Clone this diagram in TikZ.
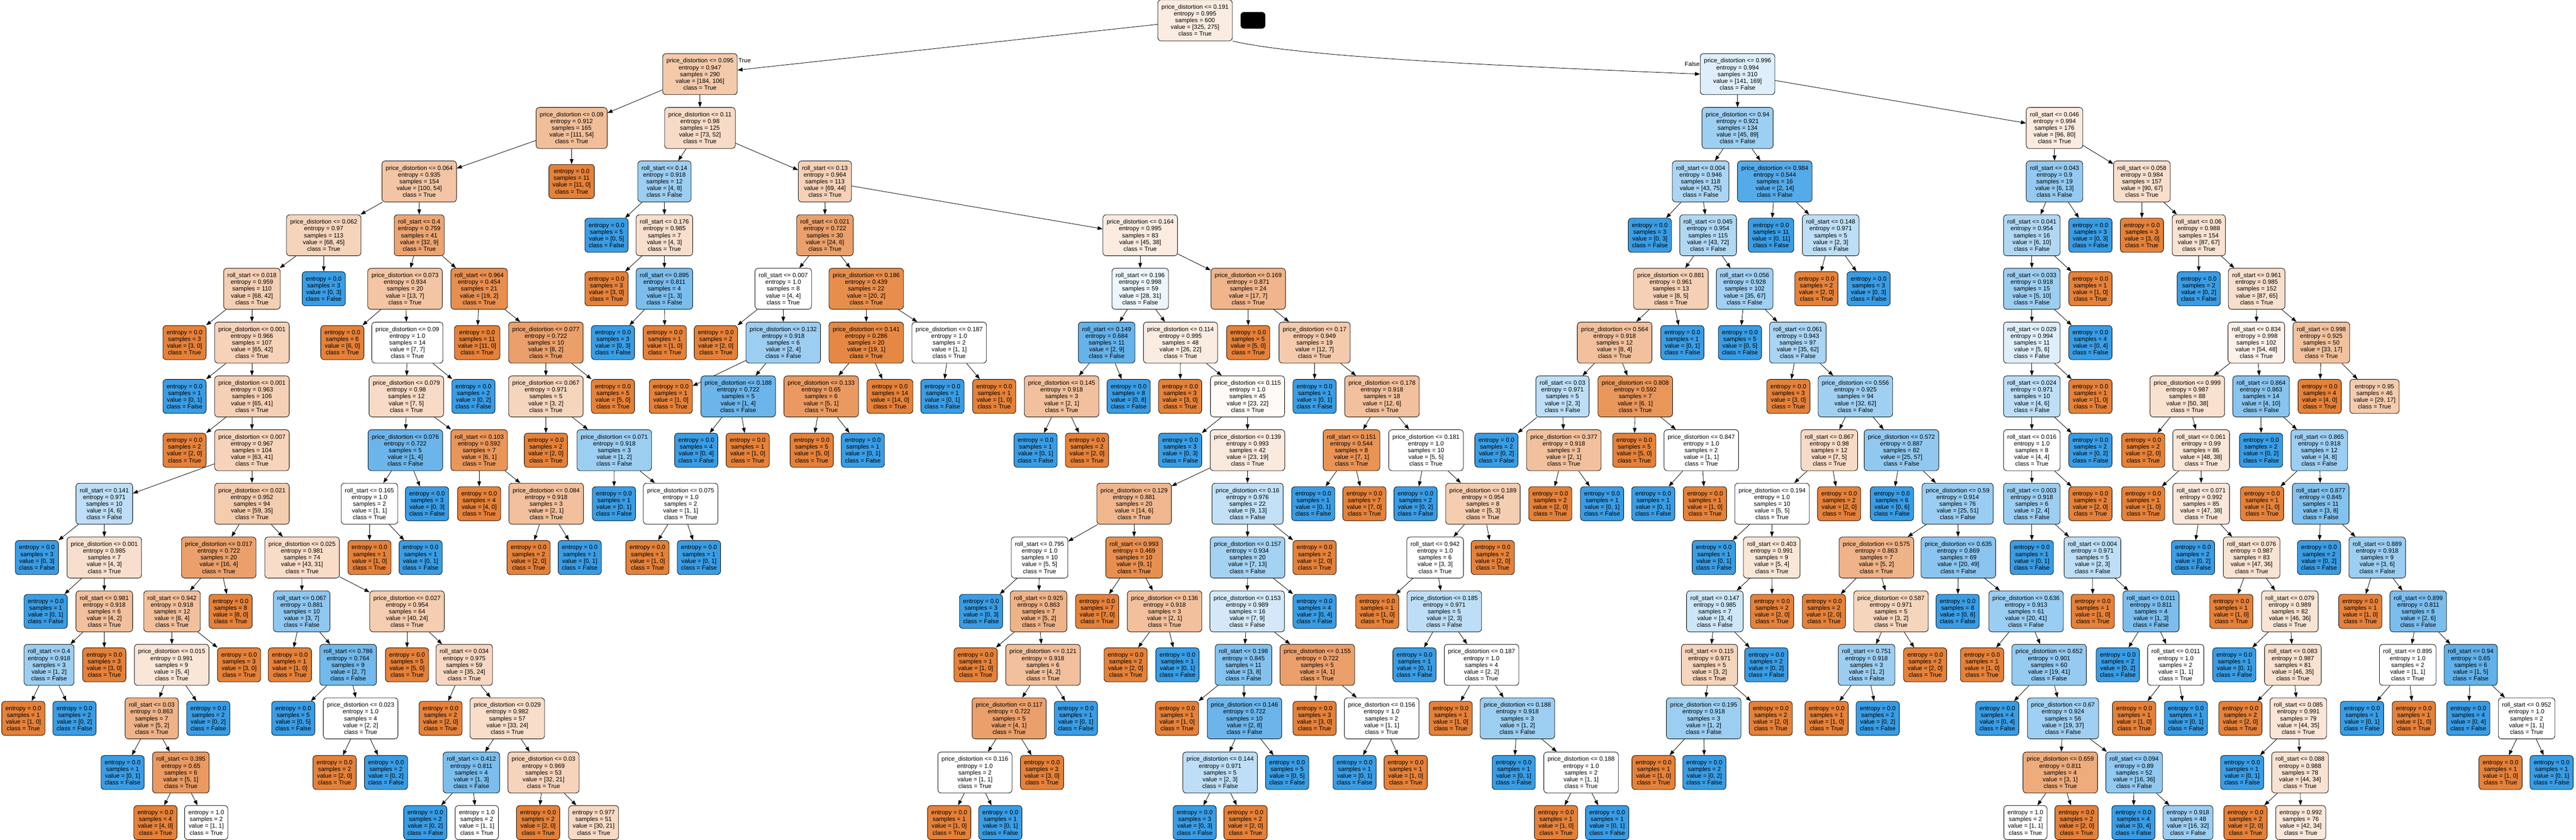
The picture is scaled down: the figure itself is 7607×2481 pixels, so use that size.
\documentclass[tikz,border=0pt]{standalone}
\usepackage{fontspec}
\setmainfont{Liberation Sans}
\usetikzlibrary{arrows.meta}
\definecolor{classT}{RGB}{229,129,57}
\definecolor{classF}{RGB}{57,157,229}
\tikzset{
  treebox/.style={draw=black,line width=0.65pt,rounded corners=5pt,align=center,inner xsep=5.5pt,inner ysep=7pt,font=\fontsize{9}{10}\selectfont},
  treeedge/.style={draw=black,line width=0.65pt,-{Triangle[length=7.5pt,width=5.5pt]}},
  sidelabel/.style={inner sep=0pt,font=\fontsize{9}{10}\selectfont}
}
\newcommand{\pdr}[1]{price\_distortion <= #1\\}
\newcommand{\rsr}[1]{roll\_start <= #1\\}
% id, parent, x, level, rule line, entropy, value a, value b
\newcommand{\dn}[8]{%
  \edef\nfy{\ifcase#4 60\or 219\or 378\or 536\or 695\or 853\or 1012\or 1171\or 1330\or 1488\or 1647\or 1806\or 1964\or 2122\or 2282\or 2430\fi}%
  \pgfmathsetmacro\nfa{100*abs(#7-#8)/max(#7,#8)}%
  \ifnum#7<#8 \colorlet{nodefill}{classF!\nfa!white}\def\nfc{False}\else\colorlet{nodefill}{classT!\nfa!white}\def\nfc{True}\fi
  \node[treebox,fill=nodefill] (#1) at (#3,\nfy) {#5entropy = #6\\samples = \the\numexpr#7+#8\relax\\value = [#7, #8]\\class = \nfc};
  \if\relax\detokenize{#2}\relax\else\draw[treeedge] (#2) -- (#1);\fi
}
\begin{document}
\begin{tikzpicture}[x=0.5pt,y=-0.5pt]
\useasboundingbox (0,0) rectangle (7607,2481);
\dn{0a}{}{3529}{0}{\pdr{0.191}}{0.995}{325}{275}
\node[fill=black,rounded corners=5pt,minimum width=36.5pt,minimum height=24.5pt,inner sep=0pt] (blob) at (3700,60) {};
% level 1
\dn{1a}{0a}{2067}{1}{\pdr{0.095}}{0.947}{184}{106}
\dn{1b}{}{5131}{1}{\pdr{0.996}}{0.994}{141}{169}
\draw[treeedge] (0a.south east) .. controls (3850,170) and (4450,195) .. (1b.west);
\node[sidelabel] (lblT) at (2199,179) {True};
\node[sidelabel] (lblF) at (4997,189) {False};
% level 2
\dn{2a}{1a}{1688}{2}{\pdr{0.09}}{0.912}{111}{54}
\dn{2b}{1a}{2067}{2}{\pdr{0.11}}{0.98}{73}{52}
\dn{2c}{1b}{5131}{2}{\pdr{0.94}}{0.921}{45}{89}
\dn{2d}{1b}{6067}{2}{\rsr{0.046}}{0.994}{96}{80}
% level 3
\dn{3a}{2a}{1238}{3}{\pdr{0.064}}{0.935}{100}{54}
\dn{3b}{2a}{1688}{3}{}{0.0}{11}{0}
\dn{3c}{2b}{1962}{3}{\rsr{0.14}}{0.918}{4}{8}
\dn{3d}{2b}{2436}{3}{\rsr{0.13}}{0.964}{69}{44}
\dn{3e}{2c}{5022}{3}{\rsr{0.004}}{0.946}{43}{75}
\dn{3f}{2c}{5241}{3}{\pdr{0.984}}{0.544}{2}{14}
\dn{3g}{2d}{6067}{3}{\rsr{0.043}}{0.9}{6}{13}
\dn{3h}{2d}{6325}{3}{\rsr{0.058}}{0.984}{90}{67}
% level 4
\dn{4a}{3a}{956}{4}{\pdr{0.062}}{0.97}{68}{45}
\dn{4b}{3a}{1238}{4}{\rsr{0.4}}{0.759}{32}{9}
\dn{4c}{3c}{1791}{4}{}{0.0}{0}{5}
\dn{4d}{3c}{1962}{4}{\rsr{0.176}}{0.985}{4}{3}
\dn{4e}{3d}{2436}{4}{\rsr{0.021}}{0.722}{24}{6}
\dn{4f}{3d}{3367}{4}{\pdr{0.164}}{0.995}{45}{38}
\dn{4g}{3e}{4872}{4}{}{0.0}{0}{3}
\dn{4h}{3e}{5044}{4}{\rsr{0.045}}{0.954}{43}{72}
\dn{4i}{3f}{5230}{4}{}{0.0}{0}{11}
\dn{4j}{3f}{5406}{4}{\rsr{0.148}}{0.971}{2}{3}
\dn{4k}{3g}{6000}{4}{\rsr{0.041}}{0.954}{6}{10}
\dn{4l}{3g}{6173}{4}{}{0.0}{0}{3}
\dn{4m}{3h}{6325}{4}{}{0.0}{3}{0}
\dn{4n}{3h}{6493}{4}{\rsr{0.06}}{0.988}{87}{67}
% level 5
\dn{5a}{4a}{744}{5}{\rsr{0.018}}{0.959}{68}{42}
\dn{5b}{4a}{956}{5}{}{0.0}{0}{3}
\dn{5c}{4b}{1196}{5}{\pdr{0.073}}{0.934}{13}{7}
\dn{5d}{4b}{1415}{5}{\rsr{0.964}}{0.454}{19}{2}
\dn{5e}{4d}{1791}{5}{}{0.0}{3}{0}
\dn{5f}{4d}{1962}{5}{\rsr{0.895}}{0.811}{1}{3}
\dn{5g}{4e}{2313}{5}{\rsr{0.007}}{1.0}{4}{4}
\dn{5h}{4e}{2558}{5}{\pdr{0.186}}{0.439}{20}{2}
\dn{5i}{4f}{3367}{5}{\rsr{0.196}}{0.998}{28}{31}
\dn{5j}{4f}{3686}{5}{\pdr{0.169}}{0.871}{17}{7}
\dn{5k}{4h}{4934}{5}{\pdr{0.881}}{0.961}{8}{5}
\dn{5l}{4h}{5152}{5}{\rsr{0.056}}{0.928}{35}{67}
\dn{5m}{4j}{5364}{5}{}{0.0}{2}{0}
\dn{5n}{4j}{5518}{5}{}{0.0}{0}{3}
\dn{5o}{4k}{6000}{5}{\rsr{0.033}}{0.918}{5}{10}
\dn{5p}{4k}{6173}{5}{}{0.0}{1}{0}
\dn{5q}{4n}{6493}{5}{}{0.0}{0}{2}
\dn{5r}{4n}{6664}{5}{\rsr{0.961}}{0.985}{87}{65}
% level 6
\dn{6a}{5a}{545}{6}{}{0.0}{3}{0}
\dn{6b}{5a}{744}{6}{\pdr{0.001}}{0.966}{65}{42}
\dn{6c}{5c}{1011}{6}{}{0.0}{6}{0}
\dn{6d}{5c}{1203}{6}{\pdr{0.09}}{1.0}{7}{7}
\dn{6e}{5d}{1409}{6}{}{0.0}{11}{0}
\dn{6f}{5d}{1612}{6}{\pdr{0.077}}{0.722}{8}{2}
\dn{6g}{5f}{1810}{6}{}{0.0}{0}{3}
\dn{6h}{5f}{1963}{6}{}{0.0}{1}{0}
\dn{6i}{5g}{2114}{6}{}{0.0}{2}{0}
\dn{6j}{5g}{2313}{6}{\pdr{0.132}}{0.918}{2}{4}
\dn{6k}{5h}{2558}{6}{\pdr{0.141}}{0.286}{19}{1}
\dn{6l}{5h}{2803}{6}{\pdr{0.187}}{1.0}{1}{1}
\dn{6m}{5i}{3268}{6}{\rsr{0.149}}{0.684}{2}{9}
\dn{6n}{5i}{3486}{6}{\pdr{0.114}}{0.995}{26}{22}
\dn{6o}{5j}{3686}{6}{}{0.0}{5}{0}
\dn{6p}{5j}{3882}{6}{\pdr{0.17}}{0.949}{12}{7}
\dn{6q}{5k}{4768}{6}{\pdr{0.564}}{0.918}{8}{4}
\dn{6r}{5k}{4968}{6}{}{0.0}{0}{1}
\dn{6s}{5l}{5138}{6}{}{0.0}{0}{5}
\dn{6t}{5l}{5309}{6}{\rsr{0.061}}{0.943}{35}{62}
\dn{6u}{5o}{6000}{6}{\rsr{0.029}}{0.994}{5}{6}
\dn{6v}{5o}{6173}{6}{}{0.0}{0}{4}
\dn{6w}{5r}{6663}{6}{\rsr{0.834}}{0.998}{54}{48}
\dn{6x}{5r}{6855}{6}{\rsr{0.998}}{0.925}{33}{17}
% level 7
\dn{7a}{6b}{545}{7}{}{0.0}{0}{1}
\dn{7b}{6b}{744}{7}{\pdr{0.001}}{0.963}{65}{41}
\dn{7c}{6d}{1200}{7}{\pdr{0.079}}{0.98}{7}{5}
\dn{7d}{6d}{1398}{7}{}{0.0}{0}{2}
\dn{7e}{6f}{1612}{7}{\pdr{0.067}}{0.971}{3}{2}
\dn{7f}{6f}{1810}{7}{}{0.0}{5}{0}
\dn{7g}{6j}{1981}{7}{}{0.0}{1}{0}
\dn{7h}{6j}{2180}{7}{\pdr{0.188}}{0.722}{1}{4}
\dn{7i}{6k}{2425}{7}{\pdr{0.133}}{0.65}{5}{1}
\dn{7j}{6k}{2628}{7}{}{0.0}{14}{0}
\dn{7k}{6l}{2783}{7}{}{0.0}{0}{1}
\dn{7l}{6l}{2936}{7}{}{0.0}{1}{0}
\dn{7m}{6m}{3135}{7}{\pdr{0.145}}{0.918}{2}{1}
\dn{7n}{6m}{3333}{7}{}{0.0}{0}{8}
\dn{7o}{6n}{3485}{7}{}{0.0}{3}{0}
\dn{7p}{6n}{3684}{7}{\pdr{0.115}}{1.0}{23}{22}
\dn{7q}{6p}{3882}{7}{}{0.0}{0}{1}
\dn{7r}{6p}{4081}{7}{\pdr{0.178}}{0.918}{12}{6}
\dn{7s}{6q}{4614}{7}{\rsr{0.03}}{0.971}{2}{3}
\dn{7t}{6q}{4829}{7}{\pdr{0.808}}{0.592}{6}{1}
\dn{7u}{6t}{5281}{7}{}{0.0}{3}{0}
\dn{7v}{6t}{5479}{7}{\pdr{0.556}}{0.925}{32}{62}
\dn{7w}{6u}{6000}{7}{\rsr{0.024}}{0.971}{4}{6}
\dn{7x}{6u}{6173}{7}{}{0.0}{1}{0}
\dn{7y}{6w}{6459}{7}{\pdr{0.999}}{0.987}{50}{38}
\dn{7z}{6w}{6677}{7}{\rsr{0.864}}{0.863}{4}{10}
\dn{7A}{6x}{6850}{7}{}{0.0}{4}{0}
\dn{7B}{6x}{7012}{7}{}{0.95}{29}{17}
% level 8
\dn{8a}{7b}{545}{8}{}{0.0}{2}{0}
\dn{8b}{7b}{744}{8}{\pdr{0.007}}{0.967}{63}{41}
\dn{8c}{7c}{1197}{8}{\pdr{0.076}}{0.722}{1}{4}
\dn{8d}{7c}{1415}{8}{\rsr{0.103}}{0.592}{6}{1}
\dn{8e}{7e}{1612}{8}{}{0.0}{2}{0}
\dn{8f}{7e}{1814}{8}{\pdr{0.071}}{0.918}{1}{2}
\dn{8g}{7h}{2056}{8}{}{0.0}{0}{4}
\dn{8h}{7h}{2208}{8}{}{0.0}{1}{0}
\dn{8i}{7i}{2397}{8}{}{0.0}{5}{0}
\dn{8j}{7i}{2548}{8}{}{0.0}{0}{1}
\dn{8k}{7m}{3058}{8}{}{0.0}{0}{1}
\dn{8l}{7m}{3210}{8}{}{0.0}{2}{0}
\dn{8m}{7p}{3485}{8}{}{0.0}{0}{3}
\dn{8n}{7p}{3684}{8}{\pdr{0.139}}{0.993}{23}{19}
\dn{8o}{7r}{3991}{8}{\rsr{0.151}}{0.544}{7}{1}
\dn{8p}{7r}{4211}{8}{\pdr{0.181}}{1.0}{5}{5}
\dn{8q}{7s}{4419}{8}{}{0.0}{0}{2}
\dn{8r}{7s}{4618}{8}{\pdr{0.377}}{0.918}{2}{1}
\dn{8s}{7t}{4826}{8}{}{0.0}{5}{0}
\dn{8t}{7t}{5024}{8}{\pdr{0.847}}{1.0}{1}{1}
\dn{8u}{7v}{5402}{8}{\rsr{0.867}}{0.98}{7}{5}
\dn{8v}{7v}{5615}{8}{\pdr{0.572}}{0.887}{25}{57}
\dn{8w}{7w}{6000}{8}{\rsr{0.016}}{1.0}{4}{4}
\dn{8x}{7w}{6173}{8}{}{0.0}{0}{2}
\dn{8y}{7y}{6329}{8}{}{0.0}{2}{0}
\dn{8z}{7y}{6500}{8}{\rsr{0.061}}{0.99}{48}{38}
\dn{8A}{7z}{6677}{8}{}{0.0}{0}{2}
\dn{8B}{7z}{6849}{8}{\rsr{0.865}}{0.918}{4}{8}
% level 9
\dn{9a}{8b}{308}{9}{\rsr{0.141}}{0.971}{4}{6}
\dn{9b}{8b}{744}{9}{\pdr{0.021}}{0.952}{59}{35}
\dn{9c}{8c}{1091}{9}{\rsr{0.165}}{1.0}{1}{1}
\dn{9d}{8c}{1261}{9}{}{0.0}{0}{3}
\dn{9e}{8d}{1415}{9}{}{0.0}{4}{0}
\dn{9f}{8d}{1613}{9}{\pdr{0.084}}{0.918}{2}{1}
\dn{9g}{8f}{1813}{9}{}{0.0}{0}{1}
\dn{9h}{8f}{2010}{9}{\pdr{0.075}}{1.0}{1}{1}
\dn{9i}{8n}{3349}{9}{\pdr{0.129}}{0.881}{14}{6}
\dn{9j}{8n}{3684}{9}{\pdr{0.16}}{0.976}{9}{13}
\dn{9k}{8o}{3878}{9}{}{0.0}{0}{1}
\dn{9l}{8o}{4029}{9}{}{0.0}{7}{0}
\dn{9m}{8p}{4180}{9}{}{0.0}{0}{2}
\dn{9n}{8p}{4379}{9}{\pdr{0.189}}{0.954}{5}{3}
\dn{9o}{8r}{4578}{9}{}{0.0}{2}{0}
\dn{9p}{8r}{4731}{9}{}{0.0}{0}{1}
\dn{9q}{8t}{4882}{9}{}{0.0}{0}{1}
\dn{9r}{8t}{5035}{9}{}{0.0}{1}{0}
\dn{9s}{8u}{5233}{9}{\pdr{0.194}}{1.0}{5}{5}
\dn{9t}{8u}{5431}{9}{}{0.0}{2}{0}
\dn{9u}{8v}{5587}{9}{}{0.0}{0}{6}
\dn{9v}{8v}{5781}{9}{\pdr{0.59}}{0.914}{25}{51}
\dn{9w}{8w}{6000}{9}{\rsr{0.003}}{0.918}{2}{4}
\dn{9x}{8w}{6173}{9}{}{0.0}{2}{0}
\dn{9y}{8z}{6329}{9}{}{0.0}{1}{0}
\dn{9z}{8z}{6500}{9}{\rsr{0.071}}{0.992}{47}{38}
\dn{9A}{8B}{6680}{9}{}{0.0}{1}{0}
\dn{9B}{8B}{6853}{9}{\rsr{0.877}}{0.845}{3}{8}
% level 10
\dn{10a}{9a}{109}{10}{}{0.0}{0}{3}
\dn{10b}{9a}{308}{10}{\pdr{0.001}}{0.985}{4}{3}
\dn{10c}{9b}{646}{10}{\pdr{0.017}}{0.722}{16}{4}
\dn{10d}{9b}{892}{10}{\pdr{0.025}}{0.981}{43}{31}
\dn{10e}{9c}{1091}{10}{}{0.0}{1}{0}
\dn{10f}{9c}{1242}{10}{}{0.0}{0}{1}
\dn{10g}{9f}{1561}{10}{}{0.0}{2}{0}
\dn{10h}{9f}{1712}{10}{}{0.0}{0}{1}
\dn{10i}{9h}{1912}{10}{}{0.0}{1}{0}
\dn{10j}{9h}{2064}{10}{}{0.0}{0}{1}
\dn{10k}{9i}{3070}{10}{\rsr{0.795}}{1.0}{5}{5}
\dn{10l}{9i}{3349}{10}{\rsr{0.993}}{0.469}{9}{1}
\dn{10m}{9j}{3684}{10}{\pdr{0.157}}{0.934}{7}{13}
\dn{10n}{9j}{3882}{10}{}{0.0}{2}{0}
\dn{10o}{9n}{4238}{10}{\rsr{0.942}}{1.0}{3}{3}
\dn{10p}{9n}{4408}{10}{}{0.0}{2}{0}
\dn{10q}{9s}{5061}{10}{}{0.0}{0}{1}
\dn{10r}{9s}{5232}{10}{\rsr{0.403}}{0.991}{5}{4}
\dn{10s}{9v}{5541}{10}{\pdr{0.575}}{0.863}{5}{2}
\dn{10t}{9v}{5783}{10}{\pdr{0.635}}{0.869}{20}{49}
\dn{10u}{9w}{6000}{10}{}{0.0}{0}{1}
\dn{10v}{9w}{6179}{10}{\rsr{0.004}}{0.971}{2}{3}
\dn{10w}{9z}{6476}{10}{}{0.0}{0}{2}
\dn{10x}{9z}{6649}{10}{\rsr{0.076}}{0.987}{47}{36}
\dn{10y}{9B}{6848}{10}{}{0.0}{0}{2}
\dn{10z}{9B}{7020}{10}{\rsr{0.889}}{0.918}{3}{6}
% level 11
\dn{11a}{10b}{135}{11}{}{0.0}{0}{1}
\dn{11b}{10b}{308}{11}{\rsr{0.981}}{0.918}{4}{2}
\dn{11c}{10c}{508}{11}{\rsr{0.942}}{0.918}{8}{4}
\dn{11d}{10c}{681}{11}{}{0.0}{8}{0}
\dn{11e}{10d}{891}{11}{\rsr{0.067}}{0.881}{3}{7}
\dn{11f}{10d}{1202}{11}{\pdr{0.027}}{0.954}{40}{24}
\dn{11g}{10k}{2897}{11}{}{0.0}{0}{3}
\dn{11h}{10k}{3067}{11}{\rsr{0.925}}{0.863}{5}{2}
\dn{11i}{10l}{3240}{11}{}{0.0}{7}{0}
\dn{11j}{10l}{3439}{11}{\pdr{0.136}}{0.918}{2}{1}
\dn{11k}{10m}{3683}{11}{\pdr{0.153}}{0.989}{7}{9}
\dn{11l}{10m}{3882}{11}{}{0.0}{0}{4}
\dn{11m}{10o}{4067}{11}{}{0.0}{1}{0}
\dn{11n}{10o}{4265}{11}{\pdr{0.185}}{0.971}{2}{3}
\dn{11o}{10r}{5064}{11}{\rsr{0.147}}{0.985}{3}{4}
\dn{11p}{10r}{5233}{11}{}{0.0}{2}{0}
\dn{11q}{10s}{5386}{11}{}{0.0}{2}{0}
\dn{11r}{10s}{5584}{11}{\pdr{0.587}}{0.971}{3}{2}
\dn{11s}{10t}{5781}{11}{}{0.0}{0}{8}
\dn{11t}{10t}{5983}{11}{\pdr{0.636}}{0.913}{20}{41}
\dn{11u}{10v}{6180}{11}{}{0.0}{1}{0}
\dn{11v}{10v}{6352}{11}{\rsr{0.011}}{0.811}{1}{3}
\dn{11w}{10x}{6589}{11}{}{0.0}{1}{0}
\dn{11x}{10x}{6762}{11}{\rsr{0.079}}{0.989}{46}{36}
\dn{11y}{10z}{6970}{11}{}{0.0}{1}{0}
\dn{11z}{10z}{7141}{11}{\rsr{0.899}}{0.811}{2}{6}
% level 12
\dn{12a}{11b}{145}{12}{\rsr{0.4}}{0.918}{1}{2}
\dn{12b}{11b}{308}{12}{}{0.0}{3}{0}
\dn{12c}{11c}{507}{12}{\pdr{0.015}}{0.991}{5}{4}
\dn{12d}{11c}{706}{12}{}{0.0}{3}{0}
\dn{12e}{11e}{856}{12}{}{0.0}{1}{0}
\dn{12f}{11e}{1028}{12}{\rsr{0.786}}{0.764}{2}{7}
\dn{12g}{11f}{1202}{12}{}{0.0}{5}{0}
\dn{12h}{11f}{1371}{12}{\rsr{0.034}}{0.975}{35}{24}
\dn{12i}{11h}{2881}{12}{}{0.0}{1}{0}
\dn{12j}{11h}{3080}{12}{\pdr{0.121}}{0.918}{4}{2}
\dn{12k}{11j}{3324}{12}{}{0.0}{2}{0}
\dn{12l}{11j}{3477}{12}{}{0.0}{0}{1}
\dn{12m}{11k}{3672}{12}{\rsr{0.198}}{0.845}{3}{8}
\dn{12n}{11k}{3890}{12}{\pdr{0.155}}{0.722}{4}{1}
\dn{12o}{11n}{4177}{12}{}{0.0}{0}{1}
\dn{12p}{11n}{4375}{12}{\pdr{0.187}}{1.0}{2}{2}
\dn{12q}{11o}{5048}{12}{\rsr{0.115}}{0.971}{3}{2}
\dn{12r}{11o}{5216}{12}{}{0.0}{0}{2}
\dn{12s}{11r}{5512}{12}{\rsr{0.751}}{0.918}{1}{2}
\dn{12t}{11r}{5685}{12}{}{0.0}{2}{0}
\dn{12u}{11t}{5853}{12}{}{0.0}{1}{0}
\dn{12v}{11t}{6051}{12}{\pdr{0.652}}{0.901}{19}{41}
\dn{12w}{11v}{6254}{12}{}{0.0}{0}{2}
\dn{12x}{11v}{6425}{12}{\rsr{0.011}}{1.0}{1}{1}
\dn{12y}{11x}{6598}{12}{}{0.0}{0}{1}
\dn{12z}{11x}{6771}{12}{\rsr{0.083}}{0.987}{46}{35}
\dn{12A}{11z}{7110}{12}{\rsr{0.895}}{1.0}{1}{1}
\dn{12B}{11z}{7296}{12}{\rsr{0.94}}{0.65}{1}{5}
% level 13
\dn{13a}{12a}{69}{13}{}{0.0}{1}{0}
\dn{13b}{12a}{220}{13}{}{0.0}{0}{2}
\dn{13c}{12c}{448}{13}{\rsr{0.03}}{0.863}{5}{2}
\dn{13d}{12c}{615}{13}{}{0.0}{0}{2}
\dn{13e}{12f}{866}{13}{}{0.0}{0}{5}
\dn{13f}{12f}{1065}{13}{\pdr{0.023}}{1.0}{2}{2}
\dn{13g}{12h}{1301}{13}{}{0.0}{2}{0}
\dn{13h}{12h}{1498}{13}{\pdr{0.029}}{0.982}{33}{24}
\dn{13i}{12j}{2980}{13}{\pdr{0.117}}{0.722}{4}{1}
\dn{13j}{12j}{3177}{13}{}{0.0}{0}{1}
\dn{13k}{12m}{3476}{13}{}{0.0}{1}{0}
\dn{13l}{12m}{3675}{13}{\pdr{0.146}}{0.722}{2}{8}
\dn{13m}{12n}{3882}{13}{}{0.0}{3}{0}
\dn{13n}{12n}{4080}{13}{\pdr{0.156}}{1.0}{1}{1}
\dn{13o}{12p}{4284}{13}{}{0.0}{1}{0}
\dn{13p}{12p}{4481}{13}{\pdr{0.188}}{0.918}{1}{2}
\dn{13q}{12q}{5031}{13}{\pdr{0.195}}{0.918}{1}{2}
\dn{13r}{12q}{5229}{13}{}{0.0}{2}{0}
\dn{13s}{12s}{5394}{13}{}{0.0}{1}{0}
\dn{13t}{12s}{5545}{13}{}{0.0}{0}{2}
\dn{13u}{12v}{5898}{13}{}{0.0}{0}{4}
\dn{13v}{12v}{6092}{13}{\pdr{0.67}}{0.924}{19}{37}
\dn{13w}{12x}{6302}{13}{}{0.0}{1}{0}
\dn{13x}{12x}{6455}{13}{}{0.0}{0}{1}
\dn{13y}{12z}{6616}{13}{}{0.0}{2}{0}
\dn{13z}{12z}{6787}{13}{\rsr{0.085}}{0.991}{44}{35}
\dn{13A}{12A}{6975}{13}{}{0.0}{0}{1}
\dn{13B}{12A}{7128}{13}{}{0.0}{1}{0}
\dn{13C}{12B}{7289}{13}{}{0.0}{0}{4}
\dn{13D}{12B}{7461}{13}{\rsr{0.952}}{1.0}{1}{1}
% level 14
\dn{14a}{13c}{362}{14}{}{0.0}{0}{1}
\dn{14b}{13c}{534}{14}{\rsr{0.395}}{0.65}{5}{1}
\dn{14c}{13f}{988}{14}{}{0.0}{2}{0}
\dn{14d}{13f}{1140}{14}{}{0.0}{0}{2}
\dn{14e}{13h}{1392}{14}{\rsr{0.412}}{0.811}{1}{3}
\dn{14f}{13h}{1605}{14}{\pdr{0.03}}{0.969}{32}{21}
\dn{14g}{13i}{2879}{14}{\pdr{0.116}}{1.0}{1}{1}
\dn{14h}{13i}{3077}{14}{}{0.0}{3}{0}
\dn{14i}{13l}{3603}{14}{\pdr{0.144}}{0.971}{2}{3}
\dn{14j}{13l}{3801}{14}{}{0.0}{0}{5}
\dn{14k}{13n}{4000}{14}{}{0.0}{0}{1}
\dn{14l}{13n}{4151}{14}{}{0.0}{1}{0}
\dn{14m}{13p}{4470}{14}{}{0.0}{0}{1}
\dn{14n}{13p}{4669}{14}{\pdr{0.188}}{1.0}{1}{1}
\dn{14o}{13q}{4883}{14}{}{0.0}{1}{0}
\dn{14p}{13q}{5033}{14}{}{0.0}{0}{2}
\dn{14q}{13v}{6084}{14}{\pdr{0.659}}{0.811}{3}{1}
\dn{14r}{13v}{6302}{14}{\rsr{0.094}}{0.89}{16}{36}
\dn{14s}{13z}{6621}{14}{}{0.0}{0}{1}
\dn{14t}{13z}{6792}{14}{\rsr{0.088}}{0.988}{44}{34}
\dn{14u}{13D}{7384}{14}{}{0.0}{1}{0}
\dn{14v}{13D}{7535}{14}{}{0.0}{0}{1}
% level 15
\dn{15a}{14b}{459}{15}{}{0.0}{4}{0}
\dn{15b}{14b}{609}{15}{}{1.0}{1}{1}
\dn{15c}{14e}{1256}{15}{}{0.0}{0}{2}
\dn{15d}{14e}{1408}{15}{}{1.0}{1}{1}
\dn{15e}{14f}{1589}{15}{}{0.0}{2}{0}
\dn{15f}{14f}{1753}{15}{}{0.977}{30}{21}
\dn{15g}{14g}{2803}{15}{}{0.0}{1}{0}
\dn{15h}{14g}{2954}{15}{}{0.0}{0}{1}
\dn{15i}{14i}{3528}{15}{}{0.0}{0}{3}
\dn{15j}{14i}{3678}{15}{}{0.0}{2}{0}
\dn{15k}{14n}{4595}{15}{}{0.0}{1}{0}
\dn{15l}{14n}{4746}{15}{}{0.0}{0}{1}
\dn{15m}{14q}{5981}{15}{}{1.0}{1}{1}
\dn{15n}{14q}{6132}{15}{}{0.0}{2}{0}
\dn{15o}{14r}{6300}{15}{}{0.0}{0}{4}
\dn{15p}{14r}{6461}{15}{}{0.918}{16}{32}
\dn{15q}{14t}{6631}{15}{}{0.0}{2}{0}
\dn{15r}{14t}{6794}{15}{}{0.992}{42}{34}
\end{tikzpicture}
\end{document}
